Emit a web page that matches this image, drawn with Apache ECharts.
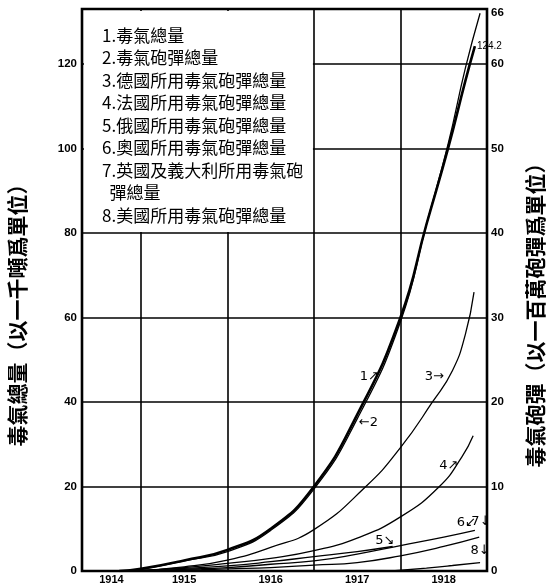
<!DOCTYPE html>
<html><head><meta charset="utf-8">
<script src="https://cdn.jsdelivr.net/npm/echarts@6/dist/echarts.min.js"></script>
<style>html,body{margin:0;padding:0;background:#fff}#c{width:560px;height:587px}</style>
</head><body><div id="c"></div>
<script>
// ---- data ----
const seriesNames = [
  '1.毒氣總量',
  '2.毒氣砲彈總量',
  '3.德國所用毒氣砲彈總量',
  '4.法國所用毒氣砲彈總量',
  '5.俄國所用毒氣砲彈總量',
  '6.奧國所用毒氣砲彈總量',
  '7.英國及義大利所用毒氣砲彈總量',
  '8.美國所用毒氣砲彈總量'
];
const yearLabels = ['1914', '1915', '1916', '1917', '1918'];
const yearLines = [1915, 1916, 1917, 1918];
const leftTicks = [0, 20, 40, 60, 80, 100, 120];
const rightTicks = [0, 10, 20, 30, 40, 50, 60, 66];
const leftTitle = '毒氣總量（以一千噸爲單位）';
const rightTitle = '毒氣砲彈（以一百萬砲彈爲單位）';
const endText1 = '124.2';

// 1 total gas (thousand tons, left axis)
const s1X = [1914.75, 1915.0, 1915.5, 1916.0, 1916.5, 1917.0, 1917.5, 1918.0, 1918.3, 1918.55, 1918.75, 1918.86];
const s1Y = [0, 0.5, 2.5, 5, 10, 20, 37, 60, 82, 100, 116, 124.2];
// 2..8 shells (millions, right axis)
const s2X = [1914.75, 1915.0, 1915.5, 1916.0, 1916.5, 1917.0, 1917.5, 1918.0, 1918.3, 1918.55, 1918.75, 1918.92];
const s2Y = [0, 0.2, 1.2, 2.3, 4.8, 9.7, 18, 29.5, 41, 50.5, 59.5, 66];
const s3X = [1914.9, 1915.5, 1916.0, 1916.5, 1917.0, 1917.6, 1918.0, 1918.37, 1918.6, 1918.75, 1918.85];
const s3Y = [0, 0.5, 1.3, 2.8, 4.9, 10, 14.6, 20, 23.7, 28, 33];
const s4X = [1914.9, 1915.5, 1916.0, 1916.5, 1917.0, 1917.5, 1918.0, 1918.45, 1918.71, 1918.84];
const s4Y = [0, 0.4, 0.9, 1.5, 2.4, 3.9, 6.4, 10, 13.5, 16];
const s5X = [1914.9, 1915.5, 1916.0, 1916.5, 1917.0, 1917.5, 1917.91];
const s5Y = [0, 0.3, 0.6, 1.1, 1.7, 2.3, 2.9];
const s6X = [1915.0, 1915.5, 1916.0, 1916.5, 1917.0, 1917.5, 1918.0, 1918.5, 1918.86];
const s6Y = [0, 0.2, 0.4, 0.8, 1.2, 2.0, 3.0, 4.0, 4.8];
const s7X = [1915.2, 1915.7, 1916.0, 1916.5, 1917.0, 1917.5, 1918.0, 1918.5, 1918.91];
const s7Y = [0, 0.15, 0.25, 0.4, 0.7, 1.0, 1.8, 2.9, 4.0];
const s8X = [1917.9, 1918.3, 1918.6, 1918.92];
const s8Y = [0, 0.35, 0.65, 1.0];

// curve annotations: [series index, year, value, text]
const notes = [
  [0, 1917.64, 46, '1↗'],
  [1, 1917.63, 17.5, '←2'],
  [2, 1918.39, 23.0, '3→'],
  [3, 1918.56, 12.5, '4↗'],
  [4, 1917.82, 3.6, '5↘'],
  [5, 1918.76, 5.7, '6↙'],
  [6, 1918.93, 5.8, '7↓'],
  [7, 1918.92, 2.4, '8↓']
];

// ---- chart ----
const xMin = 1914.32, xMax = 1919;
const leftMax = 133, rightMax = 66.5;
const allX = [s1X, s2X, s3X, s4X, s5X, s6X, s7X, s8X];
const allY = [s1Y, s2Y, s3Y, s4Y, s5Y, s6Y, s7Y, s8Y];
const cjk = '"Noto Sans CJK TC", "Noto Sans CJK SC", sans-serif';
const num = '"Liberation Sans", Arial, sans-serif';

const chart = echarts.init(document.getElementById('c'), null, {renderer: 'canvas'});

const series = allX.map((xs, i) => {
  const s = {
    name: seriesNames[i],
    type: 'line',
    yAxisIndex: i === 0 ? 0 : 1,
    data: xs.map((x, j) => [x, allY[i][j]]),
    smooth: 0.5,
    symbol: 'none',
    silent: true,
    z: 3,
    lineStyle: {color: '#000', width: i === 0 ? 2.6 : 1.3},
    itemStyle: {color: '#000'},
    markPoint: {
      symbol: 'circle', symbolSize: 1, silent: true,
      itemStyle: {color: 'rgba(0,0,0,0)'},
      label: {show: true, position: 'inside', color: '#000', fontSize: 13, fontFamily: '"DejaVu Sans", sans-serif'},
      data: notes.filter(n => n[0] === i).map(n => ({coord: [n[1], n[2]], value: n[3], label: {formatter: n[3]}}))
    }
  };
  if (i === 0) {
    s.endLabel = {show: true, formatter: endText1, color: '#000', fontSize: 10, fontFamily: num, distance: 2, offset: [0, 0]};
  }
  return s;
});

chart.setOption({
  animation: false,
  backgroundColor: '#fff',
  grid: {left: 82, right: 73, top: 9, bottom: 16, show: true, borderColor: '#000', borderWidth: 2.6, backgroundColor: 'transparent', outerBoundsMode: 'none', containLabel: false},
  legend: {
    show: true, orient: 'vertical', left: 92, top: 19, itemGap: 0,
    itemWidth: 0, itemHeight: 0, icon: 'rect', selectedMode: false,
    data: seriesNames,
    formatter: n => n.length > 14 ? n.slice(0, 13) + '\n  ' + n.slice(13) : n,
    textStyle: {color: '#000', fontSize: 17, lineHeight: 22.5, fontFamily: cjk}
  },
  xAxis: {
    type: 'value', min: xMin, max: xMax,
    axisLine: {show: false},
    axisTick: {show: false, customValues: yearLines},
    splitLine: {show: true, lineStyle: {color: '#000', width: 1.6}},
    axisLabel: {
      show: true, margin: 3,
      customValues: yearLabels.map((y, i) => i === 0 ? (xMin + (+y + 1)) / 2 : +y + 0.5),
      formatter: v => yearLabels[Math.floor(v) - 1914],
      color: '#000', fontSize: 11, fontWeight: 'bold', fontFamily: num
    }
  },
  yAxis: [{
    type: 'value', min: 0, max: leftMax, position: 'left',
    name: leftTitle, nameLocation: 'middle', nameRotate: 90, nameGap: 54,
    nameTextStyle: {color: '#000', fontSize: 21, fontWeight: 'bold', fontFamily: cjk, padding: [0, 40, 0, 0]},
    axisLine: {show: false},
    axisTick: {show: false, customValues: leftTicks.slice(1)},
    splitLine: {show: true, lineStyle: {color: '#000', width: 1.6}},
    axisLabel: {customValues: leftTicks, margin: 5, color: '#000', fontSize: 11.5, fontWeight: 'bold', fontFamily: num}
  }, {
    type: 'value', min: 0, max: rightMax, position: 'right',
    name: rightTitle, nameLocation: 'middle', nameRotate: 90, nameGap: 38,
    nameTextStyle: {color: '#000', fontSize: 21, fontWeight: 'bold', fontFamily: cjk, padding: [0, 40, 0, 0]},
    axisLine: {show: false},
    axisTick: {show: false},
    splitLine: {show: false},
    axisLabel: {customValues: rightTicks, margin: 4, color: '#000', fontSize: 11.5, fontWeight: 'bold', fontFamily: num}
  }],
  series: series
});

// white legend box hiding the grid lines behind the legend
const tl = chart.convertToPixel({xAxisIndex: 0, yAxisIndex: 0}, [xMin, leftMax]);
const br = chart.convertToPixel({xAxisIndex: 0, yAxisIndex: 0}, [yearLines[2], leftTicks[4]]);
chart.setOption({
  graphic: [{
    type: 'rect', z: 1, silent: true,
    shape: {x: tl[0] + 2, y: tl[1] + 2, width: br[0] - tl[0] - 3, height: br[1] - tl[1] - 3},
    style: {fill: '#fff'}
  }]
});
</script>
</body></html>
